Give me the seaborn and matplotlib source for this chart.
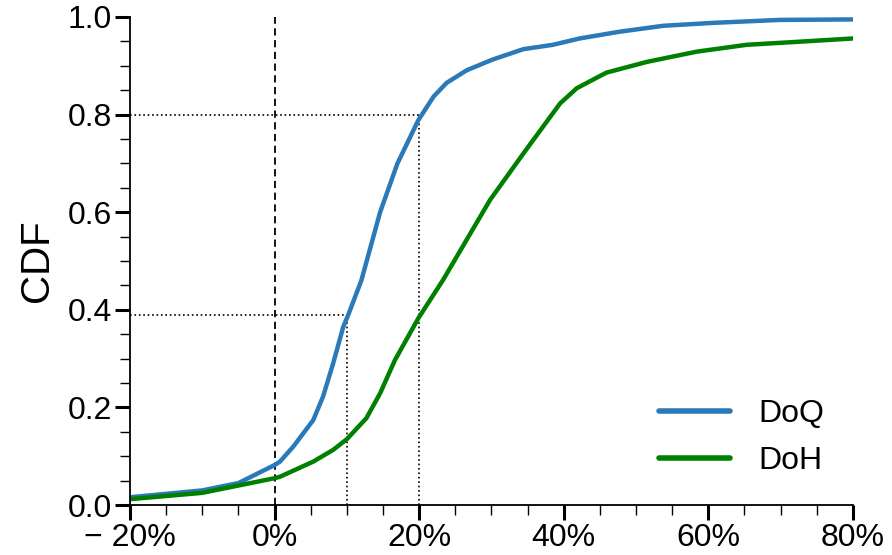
import numpy as np
import pandas as pd
import matplotlib
matplotlib.use("Agg")
import matplotlib.pyplot as plt
import seaborn as sns
from matplotlib.ticker import MultipleLocator, FuncFormatter

# DoQ CDF (x in %, y CDF)
doq_x = [-20, -10, -5, 0, 0.75, 2.6, 5.35, 6.7, 8.1, 9.5, 10.2, 12.0, 14.6, 17.0, 19.9,
         22.0, 23.8, 26.6, 30.2, 34.4, 38.5, 42.2, 47.8, 53.8, 60.7, 69.9, 80]
doq_y = [0.016, 0.03, 0.045, 0.082, 0.089, 0.12, 0.174, 0.222, 0.29, 0.365, 0.39, 0.46,
         0.60, 0.70, 0.789, 0.837, 0.865, 0.891, 0.913, 0.934, 0.943, 0.956, 0.97,
         0.982, 0.988, 0.994, 0.995]
# DoH CDF
doh_x = [-20, -10, 0, 0.75, 5.35, 8.1, 10.0, 12.7, 14.6, 16.65, 19.9, 23.3, 29.8, 34.4,
         39.5, 41.8, 45.9, 51.5, 58.4, 65.3, 72.2, 80]
doh_y = [0.012, 0.025, 0.055, 0.058, 0.089, 0.113, 0.135, 0.178, 0.229, 0.297, 0.383,
         0.461, 0.625, 0.72, 0.823, 0.854, 0.886, 0.908, 0.929, 0.943, 0.949, 0.956]

labels = ["DoQ", "DoH"]
colors = ["#2a7ab9", "#008000"]

x_ticks = [-20, 0, 20, 40, 60, 80]
y_ticks = [0.0, 0.2, 0.4, 0.6, 0.8, 1.0]

df = pd.concat([
    pd.DataFrame({"x": doq_x, "y": doq_y, "proto": labels[0]}),
    pd.DataFrame({"x": doh_x, "y": doh_y, "proto": labels[1]}),
])

sns.set_style("ticks")
plt.rcParams["font.family"] = ["Liberation Sans", "DejaVu Sans"]
plt.rcParams["text.color"] = "black"
plt.rcParams["axes.labelcolor"] = "black"
plt.rcParams["xtick.color"] = "black"
plt.rcParams["ytick.color"] = "black"

fig = plt.figure(figsize=(8.92, 5.55), dpi=100)
ax = fig.add_axes([0.1457, 0.09, 0.8105, 0.8794])

sns.lineplot(data=df, x="x", y="y", hue="proto", palette=colors, linewidth=3.2,
             ax=ax, sort=False, estimator=None)

# reference lines
ax.axvline(0, color="black", linestyle=(0, (4, 2.5)), linewidth=1.3, zorder=1)
ax.plot([-20, 20], [0.8, 0.8], color="black", linestyle=":", linewidth=1.2, zorder=1)
ax.plot([20, 20], [0, 0.8], color="black", linestyle=":", linewidth=1.2, zorder=1)
ax.plot([-20, 10], [0.39, 0.39], color="black", linestyle=":", linewidth=1.2, zorder=1)
ax.plot([10, 10], [0, 0.39], color="black", linestyle=":", linewidth=1.2, zorder=1)

ax.set_xlim(-20, 80)
ax.set_ylim(0, 1.0)
ax.set_xticks(x_ticks)
ax.set_yticks(y_ticks)
ax.xaxis.set_minor_locator(MultipleLocator(5))
ax.yaxis.set_minor_locator(MultipleLocator(0.05))
ax.xaxis.set_major_formatter(FuncFormatter(
    lambda v, p: f"\u2212 {abs(v):.0f}%" if v < 0 else f"{v:.0f}%"))
ax.yaxis.set_major_formatter(FuncFormatter(lambda v, p: f"{v:.1f}"))

ax.tick_params(axis="both", which="major", length=11, width=2.2, labelsize=23,
               color="black", labelcolor="black", pad=2)
ax.tick_params(axis="both", which="minor", length=7, width=1.0, color="black")
for s in ["left", "bottom"]:
    ax.spines[s].set_linewidth(1.3)
    ax.spines[s].set_color("black")
sns.despine(ax=ax)

ax.set_xlabel("")
ax.set_ylabel("CDF", fontsize=29, labelpad=8, color="black")

leg = ax.legend(loc="lower right", frameon=False, fontsize=23, handlelength=2.2,
                handletextpad=0.9, labelspacing=0.55, bbox_to_anchor=(1.0, 0.0))
for t in leg.get_texts():
    t.set_color("black")
for h in leg.get_lines():
    h.set_linewidth(4)

fig.savefig("out.png", dpi=100)
